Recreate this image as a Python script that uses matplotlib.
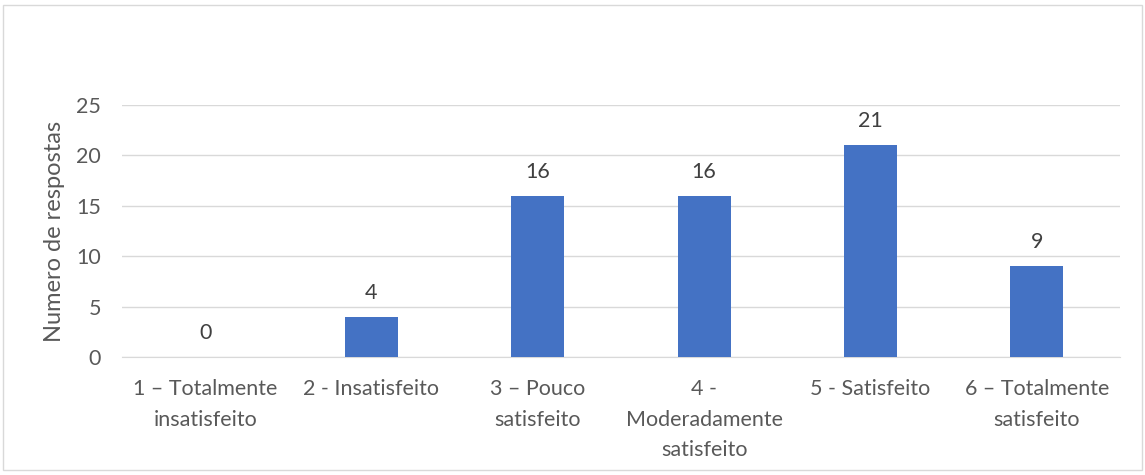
import matplotlib
matplotlib.use("Agg")
import matplotlib.pyplot as plt
from matplotlib.patches import Rectangle

categories = ["1 – Totalmente\ninsatisfeito", "2 - Insatisfeito", "3 – Pouco\nsatisfeito",
              "4 -\nModeradamente\nsatisfeito", "5 - Satisfeito", "6 – Totalmente\nsatisfeito"]
values = [0, 4, 16, 16, 21, 9]
yticks = [0, 5, 10, 15, 20, 25]
ylabel = "Numero de respostas"

plt.rcParams['font.family'] = ['Lato', 'DejaVu Sans']
txt = '#595959'

fig = plt.figure(figsize=(11.45, 4.75), dpi=100)
fig.patches.append(Rectangle((0.003, 0.01), 0.994, 0.98, transform=fig.transFigure,
                             fill=False, edgecolor='#D9D9D9', linewidth=1))
ax = fig.add_axes([122/1145, 1-357/475, (1120-122)/1145, (357-105)/475])
x = list(range(len(values)))
bars = ax.bar(x, values, width=0.32, color='#4472C4', zorder=3)
ax.set_xlim(-0.5, len(values)-0.5)
ax.set_ylim(0, 25)
ax.set_yticks(yticks)
ax.set_xticks(x)
ax.set_xticklabels(categories, fontsize=15.5, color=txt, linespacing=1.65)
ax.tick_params(axis='y', labelsize=15.5, labelcolor=txt, length=0, pad=15)
ax.tick_params(axis='x', length=0, pad=16)
ax.grid(axis='y', color='#D9D9D9', linewidth=1, zorder=0)
for s in ['top', 'right', 'left']:
    ax.spines[s].set_visible(False)
ax.spines['bottom'].set_color('#D9D9D9')
for b, v in zip(bars, values):
    ax.annotate(str(v), (b.get_x()+b.get_width()/2, v), xytext=(0, 10),
                textcoords='offset points', ha='center', va='bottom', fontsize=15.5, color='#404040')
ax.set_ylabel(ylabel, fontsize=17, color=txt, labelpad=8)
fig.savefig('out.png', dpi=100)
